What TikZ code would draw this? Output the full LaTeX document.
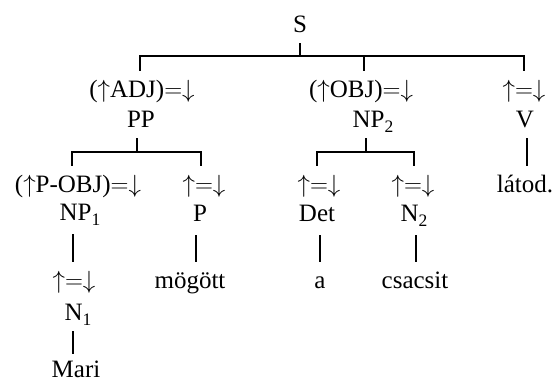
\documentclass[tikz,border=0pt]{standalone}
\usepackage{fontspec}
\setmainfont{Liberation Serif}
\usetikzlibrary{calc}
\tikzset{
  lab/.style={font=\fontsize{25}{30}\selectfont, anchor=base, inner xsep=0pt,
    inner ysep=8pt, text height=18pt, text depth=3pt},
  deep/.style={text depth=6pt},
  flat/.style={inner ysep=0pt, text height=23pt, text depth=0pt},
  branch/.style={line width=1.5pt, line cap=butt}
}
\newcommand{\ua}{$\uparrow$}
\newcommand{\eqd}{$=\downarrow$}
\newcommand{\sbs}[1]{\raisebox{-0.22em}{\fontsize{17.5}{18}\selectfont #1}}
\begin{document}
\begin{tikzpicture}[x=1pt,y=1pt]
\useasboundingbox (0,0) rectangle (557,-383);
% level 0
\node[lab] (S) at (300,-32) {S};
% level 1
\node[lab] (adjA) at (142,-97) {(\ua ADJ)\eqd};
\node[lab] (PP)   at (141,-127) {PP};
\node[lab] (objA) at (361,-97) {(\ua OBJ)\eqd};
\node[lab] (NPb)  at (373,-127) {NP\sbs{2}};
\node[lab] (vA)   at (524,-97) {$\uparrow=\downarrow$};
\node[lab] (V)    at (525,-127) {V};
% level 2
\node[lab] (pobjA) at (78,-192) {(\ua P-OBJ)\eqd};
\node[lab,deep] (NPa) at (80,-220) {NP\sbs{1}};
\node[lab] (pA)  at (204,-192) {$\uparrow=\downarrow$};
\node[lab,deep] (P)   at (200,-221) {P};
\node[lab] (detA) at (319,-192) {$\uparrow=\downarrow$};
\node[lab,deep] (Det)  at (317,-221) {Det};
\node[lab] (nA)  at (413,-192) {$\uparrow=\downarrow$};
\node[lab,deep] (Nb)  at (414,-221) {N\sbs{2}};
\node[lab] (lat) at (525,-192) {látod.};
% level 3
\node[lab] (eqA) at (74,-288) {$\uparrow=\downarrow$};
\node[lab] (Na)  at (78,-320) {N\sbs{1}};
\node[lab] (mog) at (190,-288) {mögött};
\node[lab] (a)   at (320,-288) {a};
\node[lab] (csa) at (415,-288) {csacsit};
\node[lab,flat] (Mari) at (76,-377) {Mari};
% connectors
\draw[branch] (S.south) -- ++(0,-13) coordinate (j1);
\draw[branch] ([xshift=-2pt]adjA.north) |- (j1) -| (vA.north);
\draw[branch] ([xshift=3pt]objA.north) -- ([xshift=3pt]objA.north |- j1);
\draw[branch] ([xshift=-4pt]PP.south) -- ++(0,-14) coordinate (j2);
\draw[branch] ([xshift=-6pt]pobjA.north) |- (j2) -| ([xshift=-3pt]pA.north);
\draw[branch] ([xshift=-7pt]NPb.south) -- ++(0,-14) coordinate (j3);
\draw[branch] ([xshift=-2pt]detA.north) |- (j3) -| ([xshift=1pt]nA.north);
\draw[branch] ([xshift=2pt]V.south) -- ([xshift=2pt]lat.north);
\draw[branch] ([xshift=-7pt]NPa.south) -- ([xshift=-1pt]eqA.north);
\draw[branch] ([xshift=-4pt]P.south) -- ([xshift=6pt]mog.north);
\draw[branch] ([xshift=3pt]Det.south) -- (a.north);
\draw[branch] ([xshift=2pt]Nb.south) -- ([xshift=1pt]csa.north);
\draw[branch] ([xshift=-5pt]Na.south) -- ([xshift=-3pt]Mari.north);
\end{tikzpicture}
\end{document}
